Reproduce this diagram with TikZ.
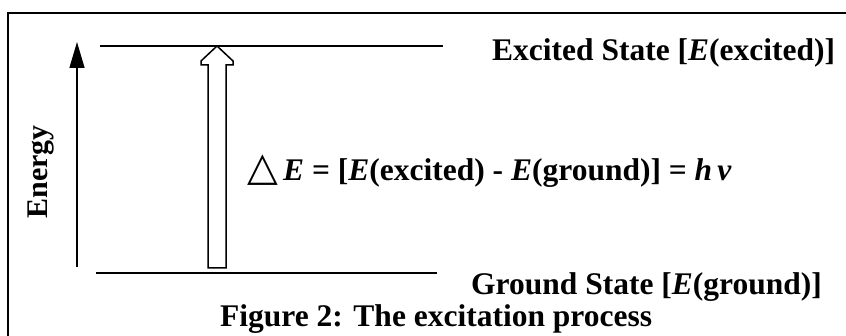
\documentclass[tikz,border=0pt]{standalone}
\usepackage{fontspec}
\setmainfont{Liberation Serif}
\newfontfamily\symfont{DejaVu Sans}
\usetikzlibrary{arrows.meta}
\tikzset{
  lbl/.style={anchor=base west, inner sep=0pt, font=\fontsize{31.5}{33}\selectfont\bfseries},
  level/.style={line width=1.4pt},
  frame/.style={line width=1.6pt},
}
\begin{document}
\begin{tikzpicture}[x=1pt,y=-1pt]
\useasboundingbox (0,0) rectangle (846,336);
\draw[frame] (8,336) -- (8,13) -- (846,13);
% energy axis
\coordinate (eb) at (77,267);
\coordinate (et) at (77,42);
\draw[line width=1.4pt,-{Triangle[length=26pt,width=15pt]}] (eb) -- (et);
\node[rotate=90, inner sep=0pt, font=\fontsize{30}{32}\selectfont\bfseries] (energy) at (41,172) {Energy};
% levels
\coordinate (exL) at (100,46); \coordinate (exR) at (443,46);
\coordinate (grL) at (96,273); \coordinate (grR) at (437,273);
\draw[level] (exL) -- (exR);
\draw[level] (grL) -- (grR);
% hollow arrow
\draw[line width=1.5pt, fill=white, line join=miter]
  (208,268) -- (208,65) -- (201,65) -- (201,61) -- (217,46) -- (233,61) -- (233,65) -- (226,65) -- (226,268) -- cycle;
% labels
\node[lbl] (extext) at (492,61) {Excited State [\textit{E}(excited)]};
\node[lbl] (eq) at (247,181) {{\symfont\fontsize{40}{40}\selectfont\mdseries △}\,\textit{E} = [\textit{E}(excited) - \textit{E}(ground)] = \textit{h\,ν}};
\node[lbl] (grtext) at (471,295) {Ground State [\textit{E}(ground)]};
\node[lbl] (cap) at (220,327) {Figure 2: The excitation process};
\end{tikzpicture}
\end{document}
